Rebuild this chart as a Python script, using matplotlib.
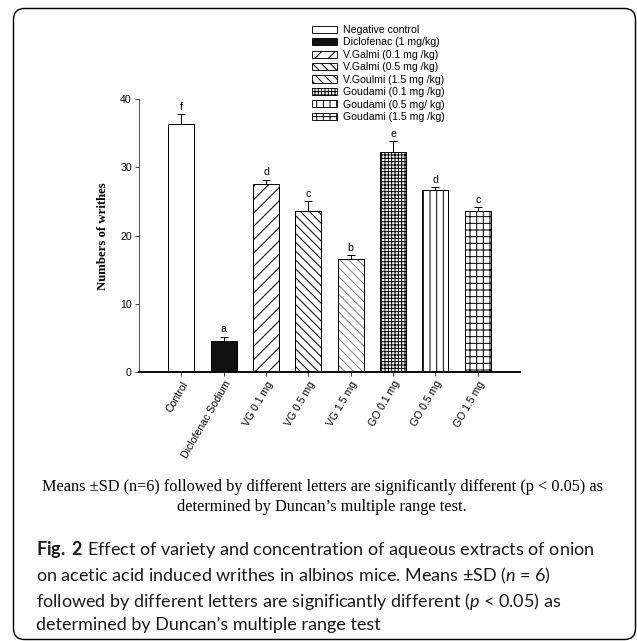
import matplotlib
matplotlib.use('Agg')
import matplotlib.pyplot as plt
from matplotlib.patches import FancyBboxPatch, Patch
from matplotlib.transforms import IdentityTransform
import numpy as np

# ---------------- data ----------------
categories = ['Control', 'Diclofenac Sodium', 'VG 0.1 mg', 'VG 0.5 mg', 'VG 1.5 mg',
              'GO 0.1 mg', 'GO 0.5 mg', 'GO 1.5 mg']
means = [36.3, 4.6, 27.6, 23.6, 16.6, 32.3, 26.6, 23.6]
sds = [1.5, 0.6, 0.6, 1.5, 0.6, 1.5, 0.5, 0.6]
letters = ['f', 'a', 'd', 'c', 'b', 'e', 'd', 'c']
legend_labels = ['Negative control', 'Diclofenac (1 mg/kg)', 'V.Galmi (0.1 mg /kg)',
                 'V.Galmi (0.5 mg /kg)', 'V.Goulmi (1.5 mg /kg)', 'Goudami (0.1 mg /kg)',
                 'Goudami (0.5 mg/ kg)', 'Goudami (1.5 mg /kg)']
yticks = [0, 10, 20, 30, 40]

# ---------------- styles ----------------
faces = ['white', '#111111', 'white', 'white', 'white', 'white', 'white', 'white']
hatches = [None, None, '//', '\\\\\\', '\\\\\\', '++++', '||', '++']
hatch_colors = ['black', 'black', 'black', 'black', '#808080', 'black', 'black', 'black']

DPI = 80
W, H = 637, 641
FS = 9.5
plt.rcParams['hatch.linewidth'] = 0.9
plt.rcParams['font.family'] = ['Liberation Sans', 'DejaVu Sans']
plt.rcParams['mathtext.fontset'] = 'custom'
plt.rcParams['mathtext.rm'] = 'Lato'
plt.rcParams['mathtext.it'] = 'Lato:italic'
plt.rcParams['mathtext.bf'] = 'Lato:bold'

fig = plt.figure(figsize=(W / DPI, H / DPI), dpi=DPI)


def fx(px):
    return px / W


def fy(py):
    return 1 - py / H


ax = fig.add_axes([fx(139), fy(372), fx(520) - fx(139), fy(99) - fy(372)])
x = np.arange(len(categories))
bw = 0.62

# hatch layer (edgecolor controls hatch colour), then outline layer
ax.bar(x, means, width=bw, color=faces, hatch=hatches, edgecolor=hatch_colors,
       linewidth=0, zorder=2)
ax.bar(x, means, width=bw, fill=False, edgecolor='black', linewidth=0.9, zorder=3)
ax.errorbar(x, means, yerr=[np.zeros(len(sds)), sds], fmt='none', ecolor='black',
            elinewidth=0.9, capsize=4, capthick=0.9, zorder=4)
for xi, m, s, l in zip(x, means, sds, letters):
    ax.text(xi, m + s + 0.3, l, ha='center', va='bottom', fontsize=FS, clip_on=False)

ax.set_xlim(-1, 8)
ax.set_ylim(0, 40)
ax.set_yticks(yticks)
ax.set_yticklabels([str(t) for t in yticks], fontsize=FS)
ax.set_xticks(x)
ax.set_xticklabels(categories, rotation=60, ha='right', rotation_mode='anchor',
                   fontsize=FS)
ax.tick_params(axis='both', direction='out', length=3.5, width=0.8, color='#333333',
               pad=3)
for s in ['top', 'right']:
    ax.spines[s].set_visible(False)
ax.spines['left'].set_linewidth(0.8)
ax.spines['left'].set_color('#444444')
ax.spines['bottom'].set_linewidth(1.7)
ax.spines['bottom'].set_color('black')

fig.text(fx(103), fy(236), 'Numbers of writhes', rotation=90, ha='center', va='center',
         family='Liberation Serif', weight='bold', fontsize=11.5)

# legend
handles = [Patch(facecolor=f, hatch=h, edgecolor='black', linewidth=0.8)
           for f, h in zip(faces, hatches)]
leg = fig.legend(handles, legend_labels, loc='upper left',
                 bbox_to_anchor=(fx(312), fy(25)), bbox_transform=fig.transFigure,
                 frameon=False, fontsize=FS, handlelength=2.36, handleheight=0.66,
                 handletextpad=0.6, labelspacing=0.23, borderpad=0, borderaxespad=0)

# captions
renderer = fig.canvas.get_renderer()


def fit_text(t, target_w):
    for _ in range(3):
        w = t.get_window_extent(renderer).width
        t.set_fontsize(t.get_fontsize() * target_w / w)


t1 = fig.text(fx(322), fy(487),
              'Means \u00b1SD (n=6) followed by different letters are significantly different (p < 0.05) as',
              ha='center', va='center', family='Liberation Serif', fontsize=12)
fit_text(t1, 562)
t2 = fig.text(fx(322), fy(507), 'determined by Duncan\u2019s multiple range test.',
              ha='center', va='center', family='Liberation Serif',
              fontsize=t1.get_fontsize())

cap_lines = [r'$\mathbf{Fig.}$ $\mathbf{2}$ Effect of variety and concentration of aqueous extracts of onion',
             'on acetic acid induced writhes in albinos mice. Means \u00b1SD ($n$ = 6)',
             'followed by different letters are significantly different ($p$ < 0.05) as',
             'determined by Duncan\u2019s multiple range test']
cap_y = [550, 576, 601, 625]
c0 = fig.text(fx(36), fy(cap_y[0]), cap_lines[0], ha='left', va='center',
              family='Lato', fontsize=14, color='#1a1a1a')
fit_text(c0, 561)
for line, yy in zip(cap_lines[1:], cap_y[1:]):
    fig.text(fx(36), fy(yy), line, ha='left', va='center', family='Lato',
             fontsize=c0.get_fontsize(), color='#1a1a1a')

# rounded frame
frame = FancyBboxPatch((13.5, 1.5), 622, 631, boxstyle='round,pad=0,rounding_size=11',
                       transform=IdentityTransform(), fill=False, edgecolor='black',
                       linewidth=1.3)
fig.patches.append(frame)

fig.savefig('out.png', dpi=DPI)
